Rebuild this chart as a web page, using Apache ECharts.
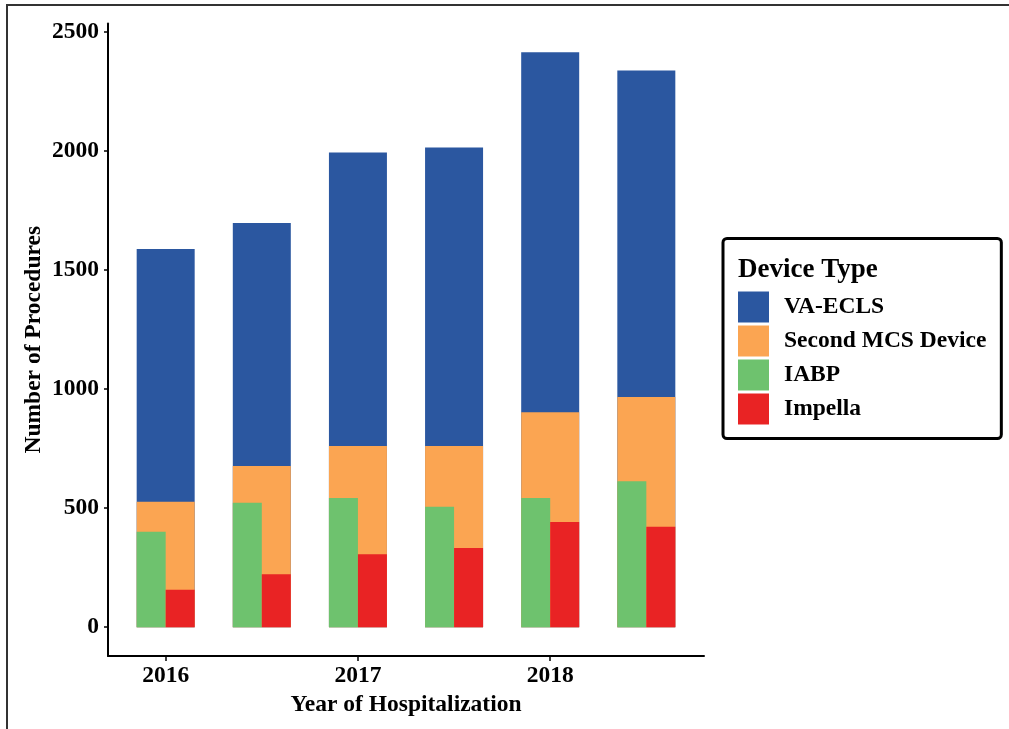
<!DOCTYPE html>
<html>
<head>
<meta charset="utf-8">
<script src="https://cdn.jsdelivr.net/npm/echarts@6/dist/echarts.min.js"></script>
<style>
  html, body { margin: 0; padding: 0; background: #fff; overflow: hidden; }
  #chart { width: 1009px; height: 729px; }
  #frame {
    position: absolute; left: 6px; top: 4px; width: 1030px; height: 760px;
    border: 2px solid #333; pointer-events: none;
  }
</style>
</head>
<body>
<div id="chart"></div>
<div id="frame"></div>
<script>
// six half-year groups, labelled only at 2016 / 2017 / 2018
const groupPos = [0, 1, 2, 3, 4, 5];
const tickPos = [0, 2, 4];
const tickLabels = ['2016', '2017', '2018'];
const yTicks = [0, 500, 1000, 1500, 2000, 2500];

const vaEcls = [1587, 1697, 1993, 2014, 2413, 2337];
const secondMcs = [526, 677, 761, 761, 902, 966];
const iabp = [401, 522, 542, 506, 542, 613];
const impella = [157, 222, 306, 332, 442, 422];

const seriesNames = ['VA-ECLS', 'Second MCS Device', 'IABP', 'Impella'];
const colors = ['#2B57A0', '#FBA552', '#6EC26E', '#E92324'];

const font = 'Liberation Serif';
const toPoints = arr => groupPos.map((x, i) => [x, arr[i]]);

const chart = echarts.init(document.getElementById('chart'));

const option = {
  animation: false,
  backgroundColor: '#fff',
  textStyle: { fontFamily: font, color: '#000', fontWeight: 'bold' },
  title: {
    text: 'Device Type',
    left: 733,
    top: 252,
    textStyle: { fontFamily: font, fontSize: 27, fontWeight: 'bold', color: '#000' }
  },
  legend: {
    orient: 'vertical',
    left: 723,
    top: 238.5,
    data: seriesNames,
    icon: 'rect',
    itemWidth: 31,
    itemHeight: 31,
    itemGap: 3,
    padding: [53, 15, 14, 15],
    borderColor: '#000',
    borderWidth: 3,
    borderRadius: 4,
    textStyle: {
      fontFamily: font, fontSize: 23.5, fontWeight: 'bold', color: '#000',
      padding: [0, 0, 0, 10]
    }
  },
  grid: { left: 108, top: 23.5, width: 596, height: 632.5 },
  xAxis: [
    {
      type: 'value',
      min: -0.6,
      max: 5.6,
      name: 'Year of Hospitalization',
      nameLocation: 'middle',
      nameGap: 30,
      nameTextStyle: { fontFamily: font, fontSize: 23.5, fontWeight: 'bold', color: '#000' },
      axisLine: { show: true, onZero: false, lineStyle: { color: '#000', width: 2 } },
      axisTick: { show: true, customValues: tickPos, length: 5, lineStyle: { color: '#000', width: 1.5 } },
      axisLabel: {
        customValues: tickPos,
        margin: 8,
        fontFamily: font, fontSize: 23.5, fontWeight: 'bold', color: '#000',
        formatter: v => tickLabels[tickPos.indexOf(Math.round(v))] || ''
      },
      splitLine: { show: false }
    },
    { type: 'value', min: -0.6, max: 5.6, show: false }
  ],
  yAxis: {
    type: 'value',
    min: -121,
    max: 2534,
    name: 'Number of Procedures',
    nameLocation: 'middle',
    nameRotate: 90,
    nameGap: 62,
    nameMoveOverlap: false,
    nameTextStyle: { fontFamily: font, fontSize: 23.5, fontWeight: 'bold', color: '#000' },
    axisLine: { show: true, onZero: false, lineStyle: { color: '#000', width: 2 } },
    axisTick: { show: true, customValues: yTicks, length: 4, lineStyle: { color: '#000', width: 1.5 } },
    axisLabel: {
      customValues: yTicks,
      margin: 9,
      fontFamily: font, fontSize: 23.5, fontWeight: 'bold', color: '#000',
      formatter: v => String(Math.round(v))
    },
    splitLine: { show: false }
  },
  series: [
    {
      name: seriesNames[0], type: 'bar', xAxisIndex: 0, barWidth: 58, barGap: '-100%',
      itemStyle: { color: colors[0] }, data: toPoints(vaEcls)
    },
    {
      name: seriesNames[1], type: 'bar', xAxisIndex: 0, barWidth: 58, barGap: '-100%',
      itemStyle: { color: colors[1] }, data: toPoints(secondMcs)
    },
    {
      name: seriesNames[2], type: 'bar', xAxisIndex: 1, barWidth: 29, barGap: 0,
      itemStyle: { color: colors[2] }, data: toPoints(iabp)
    },
    {
      name: seriesNames[3], type: 'bar', xAxisIndex: 1, barWidth: 29, barGap: 0,
      itemStyle: { color: colors[3] }, data: toPoints(impella)
    }
  ]
};

chart.setOption(option);
</script>
</body>
</html>
